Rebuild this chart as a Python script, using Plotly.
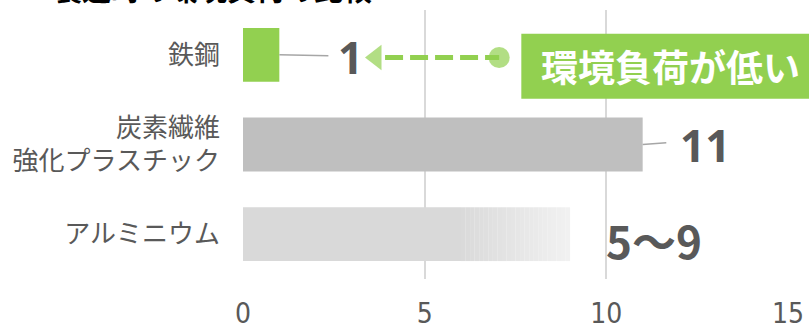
import plotly.graph_objects as go

# ---- data ----
materials = ["鉄鋼", "炭素繊維<br>強化プラスチック", "アルミニウム"]
values = [1, 11, 9]
value_labels = ["1", "11", "5～9"]
alu_low, alu_high = 5, 9
bar_colors = ["#92d050", "#bfbfbf", "#d9d9d9"]
x_ticks = [0, 5, 10, 15]
title_text = "製造時の環境負荷の比較"
callout_text = "環境負荷が低い"

GREEN = "#92d050"
GREY_TXT = "#595959"
CJK = "Noto Sans CJK JP, Noto Sans, sans-serif"
NUM = "Open Sans, Noto Sans, sans-serif"

ypos = list(range(len(materials)))

fig = go.Figure()

# solid bars (steel, CFRP)
fig.add_trace(go.Bar(
    y=ypos[:2], x=values[:2], orientation="h", width=0.6,
    marker=dict(color=bar_colors[:2], line=dict(width=0)),
    hoverinfo="skip", showlegend=False))

# aluminium: solid part, then gradient fade up to the high bound
g_start = alu_low + 1
fig.add_trace(go.Bar(
    y=[ypos[2]], x=[g_start], orientation="h", width=0.6,
    marker=dict(color=bar_colors[2], line=dict(width=0)),
    hoverinfo="skip", showlegend=False))
n_seg = 24
c0 = (0xd9, 0xd9, 0xd9)
c1 = (0xf2, 0xf2, 0xf2)
step = (alu_high - g_start) / n_seg
for i in range(n_seg):
    t = (i + 0.5) / n_seg
    c = tuple(int(round(a + (b - a) * t)) for a, b in zip(c0, c1))
    fig.add_trace(go.Bar(
        y=[ypos[2]], x=[step * 1.02], base=[g_start + i * step],
        orientation="h", width=0.6,
        marker=dict(color="rgb(%d,%d,%d)" % c, line=dict(width=0)),
        hoverinfo="skip", showlegend=False))

# leader lines
fig.add_shape(type="line", x0=values[0], x1=values[0] + 1.35, y0=ypos[0], y1=ypos[0] + 0.01,
              line=dict(color="#a6a6a6", width=1.5))
fig.add_shape(type="line", x0=values[1], x1=values[1] + 0.65, y0=ypos[1], y1=ypos[1] - 0.02,
              line=dict(color="#a6a6a6", width=1.5))

# value labels
label_pos = [(values[0] + 1.95, ypos[0] + 0.02),
             (values[1] + 1.72, ypos[1] + 0.0),
             (alu_high + 2.3, ypos[2] + 0.07)]
label_fonts = [NUM, NUM, CJK]
for txt, (lx, ly), fam in zip(value_labels, label_pos, label_fonts):
    fig.add_annotation(x=lx, y=ly, text="<b>%s</b>" % txt, showarrow=False,
                       font=dict(family=fam, size=44, color=GREY_TXT),
                       xanchor="center", yanchor="middle")

# dashed arrow
arrow_tip = values[0] + 2.36
arrow_tail = 7.05
fig.add_shape(type="line", x0=arrow_tip + 0.55, x1=arrow_tail, y0=ypos[0] + 0.03, y1=ypos[0] + 0.03,
              line=dict(color=GREEN, width=5, dash="18px,7px"))
fig.add_trace(go.Scatter(
    x=[arrow_tail, arrow_tip + 0.3], y=[ypos[0] + 0.03, ypos[0] + 0.03], mode="markers",
    marker=dict(symbol=["circle", "triangle-left"], size=[21, 22], color=GREEN,
                line=dict(width=0)),
    hoverinfo="skip", showlegend=False))

# callout box
fig.add_shape(type="rect", xref="paper", yref="y", x0=7.66 / 15, x1=1.2,
              y0=-0.235, y1=0.49, fillcolor=GREEN, line=dict(width=0), layer="above")
fig.add_annotation(xref="paper", yref="y", x=0.785, y=0.125, text="<b>%s</b>" % callout_text,
                   showarrow=False, font=dict(family=CJK, size=37, color="white"),
                   xanchor="center", yanchor="middle")

# title (cut off at top)
fig.add_annotation(xref="paper", yref="paper", x=-0.3526, y=1, xanchor="left", yanchor="middle",
                   yshift=22, text="<b>%s</b>" % title_text, showarrow=False,
                   font=dict(family=CJK, size=29, color="black"))

fig.update_layout(
    width=809, height=330,
    margin=dict(l=242.5, r=20.5, t=10, b=51, pad=0, autoexpand=False),
    plot_bgcolor="white", paper_bgcolor="white",
    barmode="overlay",
    xaxis=dict(range=[0, 15], tickvals=x_ticks, ticktext=[str(v) for v in x_ticks],
               showgrid=True, gridcolor="#d9d9d9", gridwidth=1.5, zeroline=False,
               showline=False, ticks="", ticklabelstandoff=15, automargin=False,
               tickfont=dict(family="Liberation Sans Narrow, DejaVu Sans Condensed, sans-serif",
                             size=28, color=GREY_TXT)),
    yaxis=dict(range=[2.5, -0.5], tickvals=ypos, ticktext=materials, showgrid=False,
               zeroline=False, showline=False, ticks="", ticklabelstandoff=22, automargin=False,
               tickfont=dict(family=CJK, size=26, color=GREY_TXT)),
)

fig.write_html("out.html")
